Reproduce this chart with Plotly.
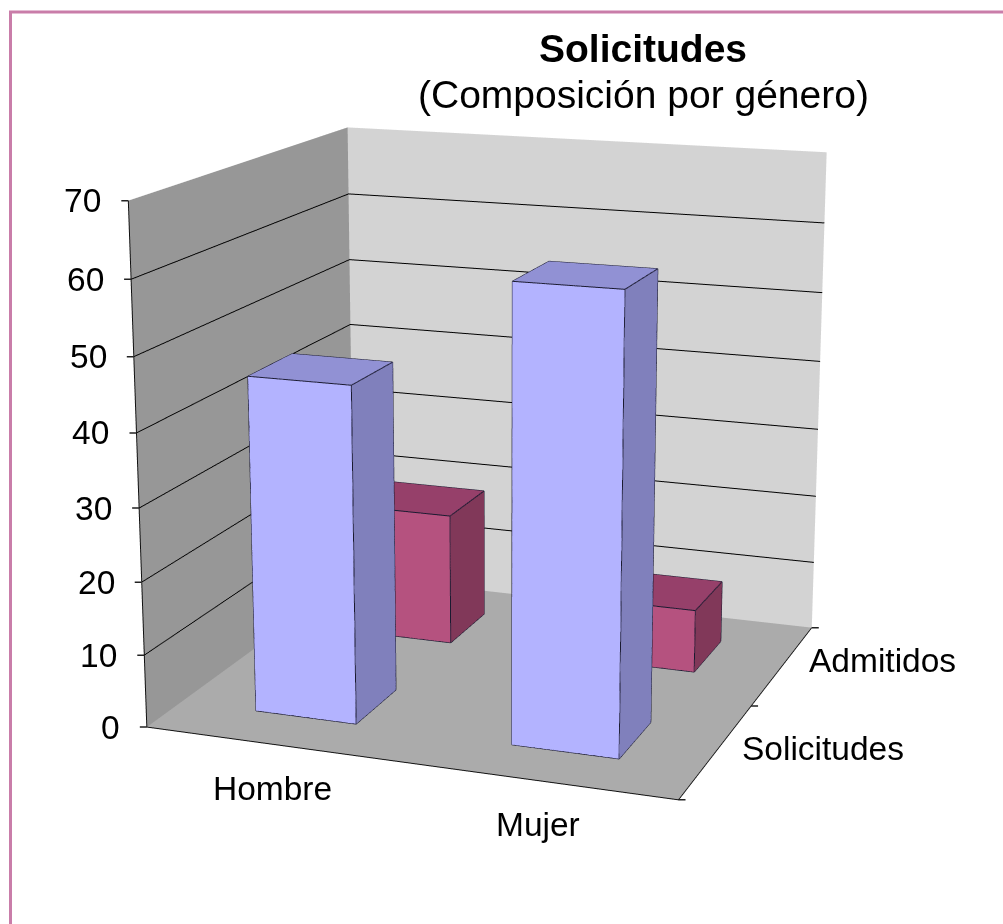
import plotly.graph_objects as go

categories = ["Hombre", "Mujer"]
series = ["Solicitudes", "Admitidos"]
solicitudes = [46, 61]
admitidos = [19, 9]
z_ticks = [0, 10, 20, 30, 40, 50, 60, 70]
z_grid = [10, 20, 30, 40, 50, 60]
x_ticks = [0, 1, 2]
y_ticks = [0, 1, 2]
title_main = "Solicitudes"
title_sub = "(Composición por género)"
front_colors = {"Solicitudes": "#B3B3FF", "Admitidos": "#B5527F"}
top_colors = {"Solicitudes": "#9191D4", "Admitidos": "#96406A"}
side_colors = {"Solicitudes": "#8080BC", "Admitidos": "#813859"}
BAR_W = 0.40
BAR_D = 0.40
FIG_W, FIG_H = 1003, 2200
TOP = -669


def px(x):
    return x / FIG_W


def py(y):
    return 1 - (y - TOP) / FIG_H


def bar_traces(xc, yc, h, s):
    x0, x1 = xc - BAR_W / 2, xc + BAR_W / 2
    y0, y1 = yc - BAR_D / 2, yc + BAR_D / 2
    X = [x0, x1, x1, x0, x0, x1, x1, x0]
    Y = [y0, y0, y1, y1, y0, y0, y1, y1]
    Z = [0, 0, 0, 0, h, h, h, h]
    i = [0, 0, 4, 4, 1, 1, 3, 3, 0, 0, 2, 2]
    j = [1, 2, 5, 6, 2, 6, 0, 4, 4, 5, 3, 7]
    k = [2, 3, 6, 7, 6, 5, 4, 7, 5, 1, 7, 6]
    fc = [front_colors[s]] * 12
    fc[2] = fc[3] = top_colors[s]
    fc[4] = fc[5] = side_colors[s]
    mesh = go.Mesh3d(x=X, y=Y, z=Z, i=i, j=j, k=k, facecolor=fc, flatshading=True,
                     lighting=dict(ambient=1, diffuse=0, specular=0, fresnel=0), hoverinfo="skip", showscale=False)
    ex, ey, ez = [], [], []
    for p, q in [(0, 1), (1, 5), (5, 4), (4, 0), (1, 2), (2, 6), (6, 5), (4, 7), (7, 6)]:
        ex += [X[p], X[q], None]
        ey += [Y[p], Y[q], None]
        ez += [Z[p], Z[q], None]
    edges = go.Scatter3d(x=ex, y=ey, z=ez, mode="lines", line=dict(color="#1a1a30", width=2), hoverinfo="skip", showlegend=False)
    return [mesh, edges]


traces = []
for yi, (s, vals) in reversed(list(enumerate(zip(series, [solicitudes, admitidos])))):
    for xi, v in enumerate(vals):
        traces += bar_traces(xi + 0.5, yi + 0.5, v, s)

label_font = dict(family="Liberation Sans", size=33.5, color="black")
tick_style = dict(text=" ", showarrow=True, arrowhead=0, arrowwidth=1.5, arrowcolor="#222222", standoff=0)
scene_ann = []
for v in z_ticks:
    scene_ann.append(dict(x=0, y=0, z=v, text=str(v), showarrow=False, xanchor="right", xshift=-25, font=label_font))
    scene_ann.append(dict(tick_style, x=0, y=0, z=v, ax=-10, ay=0))
for xv in x_ticks:
    scene_ann.append(dict(tick_style, x=xv, y=0, z=0, ax=0, ay=10))
for yv in y_ticks[1:] + y_ticks[:1]:
    scene_ann.append(dict(tick_style, x=2, y=yv, z=0, ax=10, ay=0))
for xi, c in enumerate(categories):
    scene_ann.append(dict(x=xi + 0.5, y=0, z=0, text=c, showarrow=False, yshift=-44, font=label_font))
for yi, s in enumerate(series):
    scene_ann.append(dict(x=2, y=yi + 0.5, z=0, text=s, showarrow=False, xanchor="left", xshift=24, yshift=2 + 3 * yi, font=label_font))

ax = dict(showspikes=False, title="", zeroline=False, showline=True, linecolor="#111111", linewidth=2, ticks="")
fig = go.Figure(traces)
fig.update_layout(
    width=FIG_W, height=FIG_H, autosize=False, paper_bgcolor="white", showlegend=False,
    margin=dict(l=0, r=0, t=0, b=0),
    scene=dict(
        domain=dict(x=[0, 994 / FIG_W], y=[0, 1]),
        xaxis=dict(ax, range=[0, 2], tickvals=x_ticks, ticktext=["", "", ""], showgrid=False,
                   showbackground=True, backgroundcolor="#979797"),
        yaxis=dict(ax, range=[0, 2], tickvals=y_ticks, ticktext=["", "", ""], showgrid=False,
                   showbackground=True, backgroundcolor="#D3D3D3"),
        zaxis=dict(ax, range=[0, 70], tickvals=z_grid, ticktext=[""] * 6, showgrid=True, gridcolor="#000000", gridwidth=2,
                   showbackground=True, backgroundcolor="#ABABAB"),
        aspectmode="manual", aspectratio=dict(x=1.2, y=1.15, z=1.155),
        camera=dict(eye=dict(x=1.97, y=-5.41, z=1.49), center=dict(x=0, y=0, z=0), up=dict(x=0, y=0, z=1)),
        annotations=scene_ann,
    ),
    shapes=[dict(type="rect", xref="paper", yref="paper", x0=px(10.5), x1=1.2, y0=-0.2, y1=py(12),
                 line=dict(color="#C97DA9", width=3))],
    annotations=[
        dict(text="<b>%s</b>" % title_main, x=px(643), y=py(48), xref="paper", yref="paper", showarrow=False, yanchor="middle",
             font=dict(family="Liberation Sans", size=39, color="black")),
        dict(text=title_sub, x=px(643), y=py(94), xref="paper", yref="paper", showarrow=False, yanchor="middle",
             font=dict(family="Liberation Sans", size=39, color="black")),
    ],
)
post = ("document.body.style.margin='0';document.body.style.overflow='hidden';"
        "var g=document.getElementById('{plot_id}');g.style.position='absolute';g.style.left='0';g.style.top='%dpx';" % TOP)
fig.write_html("out.html", post_script=post)
